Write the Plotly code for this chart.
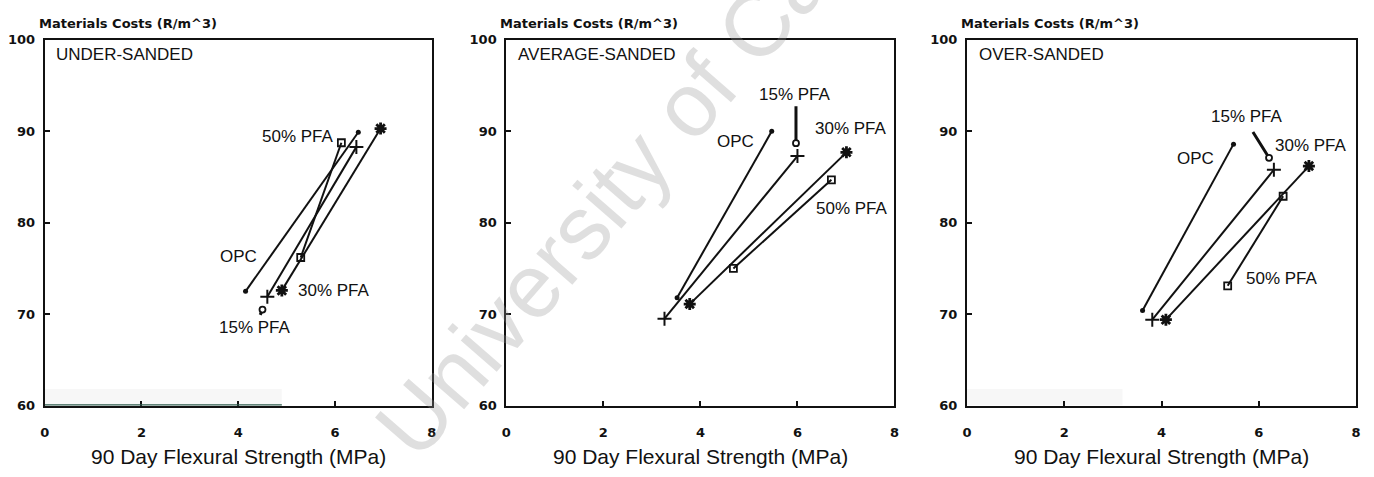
import plotly.graph_objects as go

# Mix designs: materials cost vs 90-day flexural strength, one panel per sand grading
panel_titles = ["UNDER-SANDED", "AVERAGE-SANDED", "OVER-SANDED"]
series_names = ["OPC", "15% PFA", "30% PFA", "50% PFA"]

# [panel][point] values for each binder series
opc_strength = [[4.15, 6.48], [3.52, 5.47], [3.61, 5.48]]
opc_cost = [[72.5, 89.9], [71.8, 90.0], [70.4, 88.6]]

pfa15_strength = [[4.60, 6.44], [3.26, 6.00], [3.81, 6.31]]
pfa15_cost = [[71.9, 88.3], [69.5, 87.3], [69.4, 85.8]]

pfa30_strength = [[4.90, 6.94], [3.78, 7.01], [4.09, 7.03]]
pfa30_cost = [[72.6, 90.3], [71.1, 87.7], [69.4, 86.2]]

pfa50_strength = [[6.13, 5.29], [6.70, 4.68], [6.50, 5.36]]
pfa50_cost = [[88.75, 76.2], [84.7, 75.0], [82.9, 73.1]]

x_ticks = [0, 2, 4, 6, 8]
y_ticks = [60, 70, 80, 90, 100]

# Series label placement per panel: (x, y) in data units
label_pos = [
    {"OPC": (4.00, 76.3), "15% PFA": (4.35, 68.5), "30% PFA": (5.98, 72.6), "50% PFA": (5.23, 89.4)},
    {"OPC": (4.73, 88.9), "15% PFA": (5.94, 94.0), "30% PFA": (7.10, 90.3), "50% PFA": (7.12, 81.6)},
    {"OPC": (4.70, 87.0), "15% PFA": (5.75, 91.6), "30% PFA": (7.08, 88.5), "50% PFA": (6.48, 73.9)},
]
# Pointer from the 15% PFA label: tail (x, y) and tip (x, y)
pointer_tail = [(4.44, 69.75), (5.97, 92.9), (5.86, 90.1)]
pointer_tip = [(4.50, 70.5), (5.97, 88.7), (6.21, 87.1)]

W, H = 1374, 477
x_dom = [(40 / W, 430 / W), (505 / W, 896 / W), (969 / W, 1361 / W)]
y_dom = ((477 - 411.5) / H, (477 - 34) / H)

INK = "#111111"
LABEL_FONT = "Liberation Sans, Arial, sans-serif"
styles = {
    "OPC": dict(symbol="circle", size=5, color=INK, line=dict(width=0)),
    "15% PFA": dict(symbol="cross-thin-open", size=10, color=INK, line=dict(width=2, color=INK)),
    "30% PFA": dict(symbol="asterisk-open", size=10, color=INK, line=dict(width=2.8, color=INK)),
    "50% PFA": dict(symbol="square-open", size=7, color=INK, line=dict(width=1.8, color=INK)),
}
values = {
    "OPC": (opc_strength, opc_cost),
    "15% PFA": (pfa15_strength, pfa15_cost),
    "30% PFA": (pfa30_strength, pfa30_cost),
    "50% PFA": (pfa50_strength, pfa50_cost),
}

fig = go.Figure()
annotations = []
shapes = []

for p in range(3):
    sfx = "" if p == 0 else str(p + 1)
    xa, ya = "x" + sfx, "y" + sfx
    for name in series_names:
        xs, ys = values[name]
        fig.add_trace(go.Scatter(
            x=xs[p], y=ys[p], mode="lines+markers", xaxis=xa, yaxis=ya,
            line=dict(color=INK, width=2), marker=styles[name],
            showlegend=False, hoverinfo="x+y", name=name,
        ))
        lx, ly = label_pos[p][name]
        annotations.append(dict(
            x=lx, y=ly, xref=xa, yref=ya, text=name, showarrow=False,
            xanchor="center", yanchor="middle",
            font=dict(family=LABEL_FONT, size=17, color=INK),
        ))
    # pointer from the 15% PFA label
    tx, ty = pointer_tail[p]
    hx, hy = pointer_tip[p]
    annotations.append(dict(
        x=hx, y=hy, ax=tx, ay=ty,
        xref=xa, yref=ya, axref=xa, ayref=ya, text="", showarrow=True,
        arrowhead=0, arrowwidth=3, arrowcolor=INK, standoff=3,
    ))
    fig.add_trace(go.Scatter(
        x=[hx], y=[hy], mode="markers",
        xaxis=xa, yaxis=ya, showlegend=False, hoverinfo="skip",
        marker=dict(symbol="circle-open", size=6, color=INK, line=dict(width=1.8, color=INK)),
    ))
    # grading label inside the frame
    annotations.append(dict(
        x=0.2, y=98.4, xref=xa, yref=ya, text=panel_titles[p], showarrow=False,
        xanchor="left", yanchor="middle", font=dict(family=LABEL_FONT, size=17, color=INK),
    ))
    # cost axis caption above the frame
    annotations.append(dict(
        x=x_dom[p][0] - 8 / W, y=1 - 17 / H, xref="paper", yref="paper",
        text="Materials Costs (R/m^3)", showarrow=False, xanchor="left", yanchor="middle",
        font=dict(family="DejaVu Sans", size=13, color=INK, weight="bold"),
    ))
    # strength axis caption below the frame
    annotations.append(dict(
        x=(x_dom[p][0] + x_dom[p][1]) / 2, y=1 - 464 / H, xref="paper", yref="paper",
        text="90 Day Flexural Strength (MPa)", showarrow=False,
        xanchor="center", yanchor="middle",
        font=dict(family=LABEL_FONT, size=21, color=INK),
    ))

    axis_common = dict(
        showline=True, linecolor=INK, linewidth=2, mirror=True, showgrid=False,
        zeroline=False, ticks="inside", ticklen=5, tickwidth=1.5, tickcolor=INK,
        tickfont=dict(family="DejaVu Sans", size=13, color=INK, weight="bold"),
    )
    fig.update_layout(**{
        ("xaxis" + sfx): dict(axis_common, domain=list(x_dom[p]), range=[0, 8],
                              tickvals=x_ticks, anchor=ya, ticklabelstandoff=14),
        ("yaxis" + sfx): dict(axis_common, domain=list(y_dom), range=[60, 100],
                              tickvals=y_ticks, anchor=xa, ticklabelstandoff=5),
    })

# Scanner tint along the lower edge of the first and third frames
shapes.append(dict(type="rect", xref="x", yref="y", x0=0, x1=4.9, y0=60, y1=61.8,
                   fillcolor="rgba(0,0,0,0.03)", line=dict(width=0), layer="below"))
shapes.append(dict(type="line", xref="x", yref="y", x0=0, x1=4.9, y0=60, y1=60,
                   line=dict(color="#2f5d4e", width=2.5)))
shapes.append(dict(type="rect", xref="x3", yref="y3", x0=0, x1=3.2, y0=60, y1=61.8,
                   fillcolor="rgba(0,0,0,0.03)", line=dict(width=0), layer="below"))

# Watermark across the sheet
annotations.append(dict(
    x=712 / W, y=1 - 72 / H, xref="paper", yref="paper", text="University of Cape Town",
    showarrow=False, textangle=-49, xanchor="center", yanchor="middle",
    font=dict(family=LABEL_FONT, size=90, color="rgba(150,150,150,0.3)"),
))

fig.update_layout(
    width=W, height=H, margin=dict(l=0, r=0, t=0, b=0),
    paper_bgcolor="white", plot_bgcolor="white",
    annotations=annotations, shapes=shapes,
)
fig.write_html("out.html")
